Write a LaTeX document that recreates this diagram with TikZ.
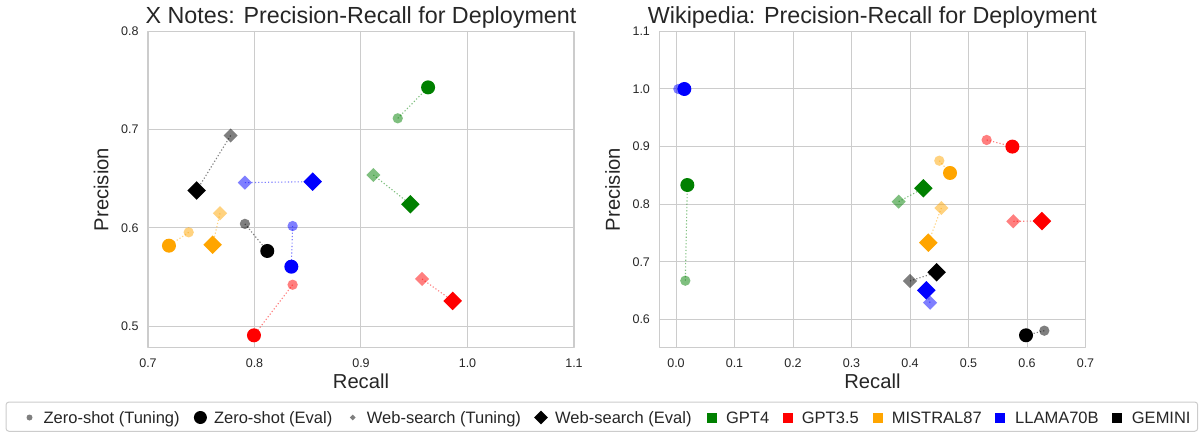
\documentclass[tikz,border=0pt]{standalone}
\usepackage{fontspec}
\setmainfont{Liberation Sans}
\usetikzlibrary{shapes.geometric}
\definecolor{qqwwqq}{rgb}{0,0.502,0}
\definecolor{ffqqqq}{rgb}{1,0,0}
\definecolor{ffaaqq}{rgb}{1,0.647,0}
\definecolor{qqqqff}{rgb}{0,0,1}
\definecolor{qqqqqq}{rgb}{0,0,0}
\definecolor{cccccc}{rgb}{0.8,0.8,0.8}
\definecolor{ststst}{rgb}{0.15,0.15,0.15}
\pgfdeclarelayer{front}
\pgfsetlayers{main,front}

\begin{document}
\begin{tikzpicture}[line cap=round,line join=round,x=1pt,y=1pt,
	zt/.style={circle,inner sep=0pt,minimum size=10.3pt,fill opacity=0.5},
	ze/.style={circle,inner sep=0pt,minimum size=14pt},
	wt/.style={diamond,inner sep=0pt,minimum size=14.3pt,fill opacity=0.5},
	we/.style={diamond,inner sep=0pt,minimum size=18.7pt},
	pairline/.style={line cap=butt,dash pattern=on 1.2pt off 2.1pt,line width=1.1pt,draw opacity=0.5},
	gridline/.style={color=cccccc,line width=1pt},
	spine/.style={color=cccccc,line width=1.25pt},
	ticklab/.style={inner sep=0pt,text=ststst,font=\fontsize{12.5}{15}\selectfont},
	axlab/.style={inner sep=0pt,anchor=base,text=ststst,font=\fontsize{20.2}{24}\selectfont},
	paneltitle/.style={inner sep=0pt,anchor=base,text=ststst,font=\fontsize{23.3}{28}\selectfont},
	legtext/.style={inner sep=0pt,anchor=base west,text=ststst,font=\fontsize{16.5}{19}\selectfont}]
	\useasboundingbox (0,0) rectangle (1203,432);
% X Notes
\begin{scope}[shift={(-597.5pt,-385pt)},x=1065pt,y=982pt]
	\draw [gridline] (0.8,0.4779)-- (0.8,0.8);
	\draw [gridline] (0.9,0.4779)-- (0.9,0.8);
	\draw [gridline] (1.0,0.4779)-- (1.0,0.8);
	\draw [gridline] (0.7,0.5)-- (1.1,0.5);
	\draw [gridline] (0.7,0.6)-- (1.1,0.6);
	\draw [gridline] (0.7,0.7)-- (1.1,0.7);
	\draw [spine] (0.7,0.4779) rectangle (1.1,0.8);
	\node[ticklab,anchor=north,yshift=-10.6pt] (xn-x7) at (0.7,0.4779) {0.7};
	\node[ticklab,anchor=north,yshift=-10.6pt] (xn-x8) at (0.8,0.4779) {0.8};
	\node[ticklab,anchor=north,yshift=-10.6pt] (xn-x9) at (0.9,0.4779) {0.9};
	\node[ticklab,anchor=north,yshift=-10.6pt] (xn-x10) at (1.0,0.4779) {1.0};
	\node[ticklab,anchor=north,yshift=-10.6pt] (xn-x11) at (1.1,0.4779) {1.1};
	\node[ticklab,anchor=east,xshift=-9.2pt] (xn-y5) at (0.7,0.5) {0.5};
	\node[ticklab,anchor=east,xshift=-9.2pt] (xn-y6) at (0.7,0.6) {0.6};
	\node[ticklab,anchor=east,xshift=-9.2pt] (xn-y7) at (0.7,0.7) {0.7};
	\node[ticklab,anchor=east,xshift=-9.2pt] (xn-y8) at (0.7,0.8) {0.8};
	\node[axlab,yshift=-41.3pt] (xn-xlab) at (0.9,0.4779) {Recall};
	\node[axlab,xshift=-39.5pt,rotate=90] (xn-ylab) at (0.7,0.639) {Precision};
	\node[paneltitle,yshift=7.7pt] (xn-title) at (0.9,0.8) {X Notes: Precision-Recall for Deployment};
	\begin{pgfonlayer}{front}
		\node[zt,fill=qqwwqq] (xn-gpt4-zt) at (0.9345,0.7115) {};
		\node[ze,fill=qqwwqq] (xn-gpt4-ze) at (0.963,0.743) {};
		\node[wt,fill=qqwwqq] (xn-gpt4-wt) at (0.9116,0.6538) {};
		\node[we,fill=qqwwqq] (xn-gpt4-we) at (0.9463,0.624) {};
		\node[zt,fill=ffqqqq] (xn-gpt35-zt) at (0.8358,0.542) {};
		\node[ze,fill=ffqqqq] (xn-gpt35-ze) at (0.7995,0.4905) {};
		\node[wt,fill=ffqqqq] (xn-gpt35-wt) at (0.9573,0.5479) {};
		\node[we,fill=ffqqqq] (xn-gpt35-we) at (0.9861,0.5255) {};
		\node[zt,fill=ffaaqq] (xn-mis-zt) at (0.7382,0.5954) {};
		\node[ze,fill=ffaaqq] (xn-mis-ze) at (0.7197,0.5818) {};
		\node[wt,fill=ffaaqq] (xn-mis-wt) at (0.7676,0.6148) {};
		\node[we,fill=ffaaqq] (xn-mis-we) at (0.7607,0.5828) {};
		\node[zt,fill=qqqqff] (xn-llama-zt) at (0.8358,0.6018) {};
		\node[ze,fill=qqqqff] (xn-llama-ze) at (0.8346,0.5604) {};
		\node[wt,fill=qqqqff] (xn-llama-wt) at (0.791,0.646) {};
		\node[we,fill=qqqqff] (xn-llama-we) at (0.8546,0.647) {};
		\node[zt,fill=qqqqqq] (xn-gem-zt) at (0.791,0.604) {};
		\node[ze,fill=qqqqqq] (xn-gem-ze) at (0.812,0.5764) {};
		\node[wt,fill=qqqqqq] (xn-gem-wt) at (0.7776,0.694) {};
		\node[we,fill=qqqqqq] (xn-gem-we) at (0.7457,0.638) {};
	\end{pgfonlayer}
	\draw [pairline,color=qqwwqq] (xn-gpt4-zt.center)-- (xn-gpt4-ze.center);
	\draw [pairline,color=qqwwqq] (xn-gpt4-wt.center)-- (xn-gpt4-we.center);
	\draw [pairline,color=ffqqqq] (xn-gpt35-zt.center)-- (xn-gpt35-ze.center);
	\draw [pairline,color=ffqqqq] (xn-gpt35-wt.center)-- (xn-gpt35-we.center);
	\draw [pairline,color=ffaaqq] (xn-mis-zt.center)-- (xn-mis-ze.center);
	\draw [pairline,color=ffaaqq] (xn-mis-wt.center)-- (xn-mis-we.center);
	\draw [pairline,color=qqqqff] (xn-llama-zt.center)-- (xn-llama-ze.center);
	\draw [pairline,color=qqqqff] (xn-llama-wt.center)-- (xn-llama-we.center);
	\draw [pairline,color=qqqqqq] (xn-gem-zt.center)-- (xn-gem-ze.center);
	\draw [pairline,color=qqqqqq] (xn-gem-wt.center)-- (xn-gem-we.center);
\end{scope}
% Wikipedia
\begin{scope}[shift={(676pt,-233pt)},x=585pt,y=576pt]
	\draw [gridline] (0.0,0.5509)-- (0.0,1.1);
	\draw [gridline] (0.1,0.5509)-- (0.1,1.1);
	\draw [gridline] (0.2,0.5509)-- (0.2,1.1);
	\draw [gridline] (0.3,0.5509)-- (0.3,1.1);
	\draw [gridline] (0.4,0.5509)-- (0.4,1.1);
	\draw [gridline] (0.5,0.5509)-- (0.5,1.1);
	\draw [gridline] (0.6,0.5509)-- (0.6,1.1);
	\draw [gridline] (-0.0285,0.6)-- (0.7,0.6);
	\draw [gridline] (-0.0285,0.7)-- (0.7,0.7);
	\draw [gridline] (-0.0285,0.8)-- (0.7,0.8);
	\draw [gridline] (-0.0285,0.9)-- (0.7,0.9);
	\draw [gridline] (-0.0285,1.0)-- (0.7,1.0);
	\draw [spine] (-0.0285,0.5509) rectangle (0.7,1.1);
	\node[ticklab,anchor=north,yshift=-10.6pt] (wp-x0) at (0.0,0.5509) {0.0};
	\node[ticklab,anchor=north,yshift=-10.6pt] (wp-x1) at (0.1,0.5509) {0.1};
	\node[ticklab,anchor=north,yshift=-10.6pt] (wp-x2) at (0.2,0.5509) {0.2};
	\node[ticklab,anchor=north,yshift=-10.6pt] (wp-x3) at (0.3,0.5509) {0.3};
	\node[ticklab,anchor=north,yshift=-10.6pt] (wp-x4) at (0.4,0.5509) {0.4};
	\node[ticklab,anchor=north,yshift=-10.6pt] (wp-x5) at (0.5,0.5509) {0.5};
	\node[ticklab,anchor=north,yshift=-10.6pt] (wp-x6) at (0.6,0.5509) {0.6};
	\node[ticklab,anchor=north,yshift=-10.6pt] (wp-x7) at (0.7,0.5509) {0.7};
	\node[ticklab,anchor=east,xshift=-9.2pt] (wp-y6) at (-0.0285,0.6) {0.6};
	\node[ticklab,anchor=east,xshift=-9.2pt] (wp-y7) at (-0.0285,0.7) {0.7};
	\node[ticklab,anchor=east,xshift=-9.2pt] (wp-y8) at (-0.0285,0.8) {0.8};
	\node[ticklab,anchor=east,xshift=-9.2pt] (wp-y9) at (-0.0285,0.9) {0.9};
	\node[ticklab,anchor=east,xshift=-9.2pt] (wp-y10) at (-0.0285,1.0) {1.0};
	\node[ticklab,anchor=east,xshift=-9.2pt] (wp-y11) at (-0.0285,1.1) {1.1};
	\node[axlab,yshift=-41.3pt] (wp-xlab) at (0.3358,0.5509) {Recall};
	\node[axlab,xshift=-39.5pt,rotate=90] (wp-ylab) at (-0.0285,0.8255) {Precision};
	\node[paneltitle,yshift=7.7pt] (wp-title) at (0.3358,1.1) {Wikipedia: Precision-Recall for Deployment};
	\begin{pgfonlayer}{front}
		\node[zt,fill=qqwwqq] (wp-gpt4-zt) at (0.0159,0.6672) {};
		\node[ze,fill=qqwwqq] (wp-gpt4-ze) at (0.0194,0.8333) {};
		\node[wt,fill=qqwwqq] (wp-gpt4-wt) at (0.3806,0.8044) {};
		\node[we,fill=qqwwqq] (wp-gpt4-we) at (0.4228,0.8276) {};
		\node[zt,fill=ffqqqq] (wp-gpt35-zt) at (0.531,0.9115) {};
		\node[ze,fill=ffqqqq] (wp-gpt35-ze) at (0.575,0.9) {};
		\node[wt,fill=ffqqqq] (wp-gpt35-wt) at (0.5766,0.7703) {};
		\node[we,fill=ffqqqq] (wp-gpt35-we) at (0.6256,0.7708) {};
		\node[zt,fill=ffaaqq] (wp-mis-zt) at (0.4501,0.8755) {};
		\node[ze,fill=ffaaqq] (wp-mis-ze) at (0.4684,0.8542) {};
		\node[wt,fill=ffaaqq] (wp-mis-wt) at (0.4536,0.7934) {};
		\node[we,fill=ffaaqq] (wp-mis-we) at (0.4313,0.7332) {};
		\node[zt,fill=qqqqff] (wp-llama-zt) at (0.004,1.0) {};
		\node[ze,fill=qqqqff] (wp-llama-ze) at (0.0142,1.0) {};
		\node[wt,fill=qqqqff] (wp-llama-wt) at (0.4342,0.629) {};
		\node[we,fill=qqqqff] (wp-llama-we) at (0.4279,0.6505) {};
		\node[zt,fill=qqqqqq] (wp-gem-zt) at (0.6296,0.5804) {};
		\node[ze,fill=qqqqqq] (wp-gem-ze) at (0.5983,0.5724) {};
		\node[wt,fill=qqqqqq] (wp-gem-wt) at (0.4,0.6667) {};
		\node[we,fill=qqqqqq] (wp-gem-we) at (0.4456,0.6818) {};
	\end{pgfonlayer}
	\draw [pairline,color=qqwwqq] (wp-gpt4-zt.center)-- (wp-gpt4-ze.center);
	\draw [pairline,color=qqwwqq] (wp-gpt4-wt.center)-- (wp-gpt4-we.center);
	\draw [pairline,color=ffqqqq] (wp-gpt35-zt.center)-- (wp-gpt35-ze.center);
	\draw [pairline,color=ffqqqq] (wp-gpt35-wt.center)-- (wp-gpt35-we.center);
	\draw [pairline,color=ffaaqq] (wp-mis-zt.center)-- (wp-mis-ze.center);
	\draw [pairline,color=ffaaqq] (wp-mis-wt.center)-- (wp-mis-we.center);
	\draw [pairline,color=qqqqff] (wp-llama-zt.center)-- (wp-llama-ze.center);
	\draw [pairline,color=qqqqff] (wp-llama-wt.center)-- (wp-llama-we.center);
	\draw [pairline,color=qqqqqq] (wp-gem-zt.center)-- (wp-gem-ze.center);
	\draw [pairline,color=qqqqqq] (wp-gem-wt.center)-- (wp-gem-we.center);
\end{scope}
% legend
	\draw [color=cccccc,line width=1pt,rounded corners=3pt,fill=white] (6,0.7) rectangle (1197.7,30);
	\node[circle,inner sep=0pt,minimum size=6pt,fill=qqqqqq,fill opacity=0.5] (lg-zt) at (29.5,14.5) {};
		\node[legtext] (lg-zt-text) at (43.4,9) {Zero-shot (Tuning)};
	\node[circle,inner sep=0pt,minimum size=13pt,fill=qqqqqq] (lg-ze) at (200.4,14.5) {};
		\node[legtext] (lg-ze-text) at (213.8,9) {Zero-shot (Eval)};
	\node[diamond,inner sep=0pt,minimum size=6pt,fill=qqqqqq,fill opacity=0.5] (lg-wt) at (352.7,14.5) {};
		\node[legtext] (lg-wt-text) at (366.7,9) {Web-search (Tuning)};
	\node[diamond,inner sep=0pt,minimum size=14pt,fill=qqqqqq] (lg-we) at (541,14.5) {};
		\node[legtext] (lg-we-text) at (555,9) {Web-search (Eval)};
	\node[inner sep=0pt,minimum size=10pt,fill=qqwwqq] (lg-gpt4) at (712,14.5) {};
		\node[legtext] (lg-gpt4-text) at (725.9,9) {GPT4};
	\node[inner sep=0pt,minimum size=10pt,fill=ffqqqq] (lg-gpt35) at (787.7,14.5) {};
		\node[legtext] (lg-gpt35-text) at (801.7,9) {GPT3.5};
	\node[inner sep=0pt,minimum size=10pt,fill=ffaaqq] (lg-mis) at (877.7,14.5) {};
		\node[legtext] (lg-mis-text) at (891.7,9) {MISTRAL87};
	\node[inner sep=0pt,minimum size=10pt,fill=qqqqff] (lg-llama) at (1000,14.5) {};
		\node[legtext] (lg-llama-text) at (1015,9) {LLAMA70B};
	\node[inner sep=0pt,minimum size=10pt,fill=qqqqqq] (lg-gem) at (1117.3,14.5) {};
		\node[legtext] (lg-gem-text) at (1131.7,9) {GEMINI};
\end{tikzpicture}
\end{document}
